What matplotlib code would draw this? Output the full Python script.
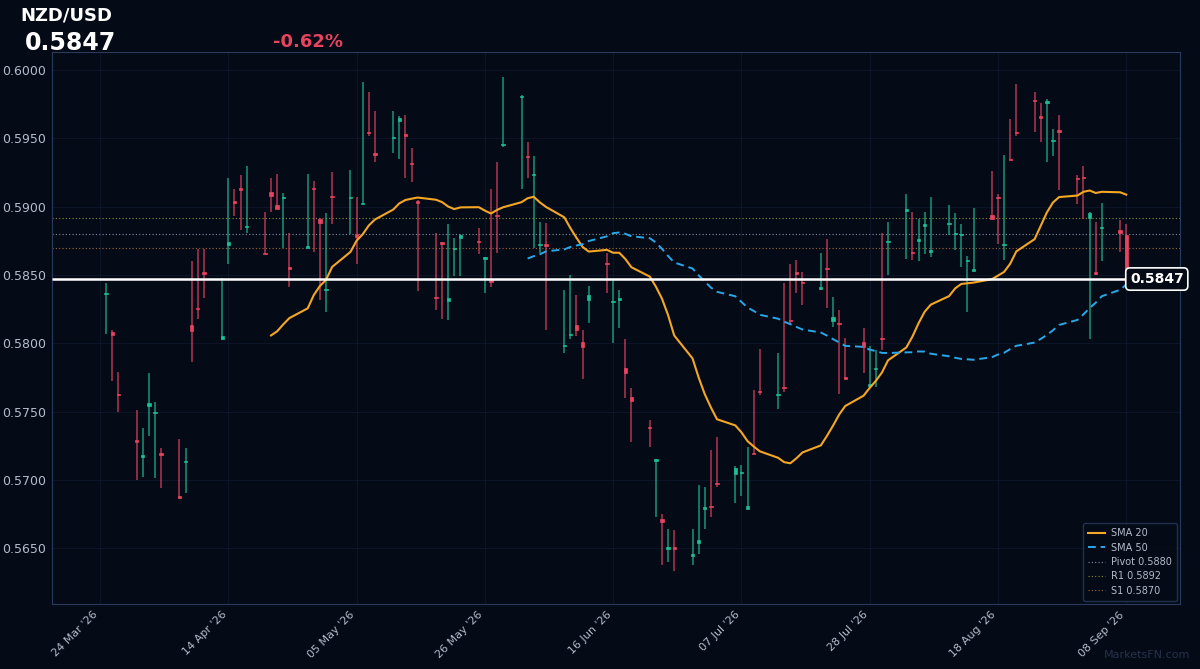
import matplotlib
matplotlib.use("Agg")
import matplotlib.pyplot as plt
import matplotlib.dates as mdates
import pandas as pd
import numpy as np

# ---- data ----
opens = [.5836,.5808,.5763, .5729,.5717,.5754,.5749,.5720, .5688,.5713,.5813,.5826,.5852,
         .5803,.5872,.5904,.5914,.5885, .5866,.5911,.5901,.5906,.5856, .5870,.5914,.5891,.5839,.5908,
         .5906,.5880,.5902,.5955,.5939, .5950,.5963,.5953,.5932,.5904, .5834,.5874,.5831,.5869,.5877,
         .5875,.5862,.5846,.5894,.5945, .5980,.5937,.5923,.5872,.5873, .5798,.5806,.5813,.5801,.5832,
         .5859,.5830,.5832,.5782,.5761, .5739,.5714,.5671,.5649,.5651, .5644,.5654,.5679,.5681,.5698,
         .5704,.5705,.5679,.5720,.5765, .5762,.5768,.5817,.5852,.5845, .5840,.5855,.5816,.5815,.5775,
         .5801,.5769,.5781,.5804,.5874, .5897,.5867,.5875,.5886,.5867, .5887,.5880,.5879,.5860,.5853,
         .5894,.5907,.5872,.5935,.5955, .5978,.5966,.5976,.5948,.5956, .5921,.5922,.5892,.5852,.5884,
         .5883,.5879]
highs = [.5844,.5810,.5779, .5751,.5738,.5778,.5757,.5723, .5730,.5723,.5860,.5869,.5869,
         .5848,.5921,.5913,.5923,.5930, .5896,.5921,.5924,.5910,.5881, .5924,.5919,.5892,.5895,.5925,
         .5927,.5907,.5991,.5984,.5970, .5970,.5966,.5967,.5943,.5905, .5881,.5874,.5887,.5877,.5880,
         .5884,.5863,.5913,.5933,.5995, .5982,.5947,.5937,.5889,.5888, .5839,.5850,.5835,.5810,.5842,
         .5866,.5846,.5839,.5803,.5767, .5744,.5715,.5675,.5664,.5663, .5664,.5696,.5695,.5722,.5731,
         .5710,.5711,.5724,.5766,.5796, .5793,.5844,.5858,.5861,.5852, .5866,.5876,.5834,.5824,.5804,
         .5811,.5798,.5795,.5881,.5889, .5909,.5896,.5891,.5896,.5907, .5901,.5895,.5887,.5864,.5899,
         .5926,.5909,.5938,.5964,.5990, .5984,.5976,.5979,.5957,.5967, .5923,.5930,.5896,.5889,.5903,
         .5890,.5887]
lows = [.5807,.5772,.5750, .5700,.5702,.5732,.5701,.5694, .5686,.5690,.5786,.5818,.5833,
        .5802,.5858,.5893,.5883,.5881, .5865,.5896,.5898,.5870,.5841, .5870,.5867,.5832,.5823,.5887,
        .5880,.5858,.5902,.5952,.5933, .5939,.5935,.5921,.5918,.5838, .5824,.5818,.5817,.5849,.5849,
        .5865,.5837,.5841,.5866,.5944, .5913,.5921,.5870,.5866,.5810, .5793,.5803,.5805,.5774,.5815,
        .5837,.5800,.5811,.5760,.5728, .5724,.5673,.5638,.5640,.5633, .5638,.5646,.5664,.5673,.5695,
        .5683,.5688,.5679,.5719,.5762, .5752,.5764,.5813,.5837,.5828, .5839,.5826,.5812,.5763,.5774,
        .5778,.5767,.5768,.5795,.5850, .5862,.5861,.5860,.5865,.5863, .5879,.5868,.5856,.5823,.5853,
        .5891,.5873,.5861,.5934,.5952, .5955,.5947,.5933,.5937,.5912, .5902,.5891,.5803,.5850,.5860,
        .5867,.5846]
closes = [.5837,.5806,.5762, .5728,.5718,.5756,.5750,.5718, .5687,.5714,.5809,.5825,.5851,
          .5805,.5874,.5903,.5912,.5886, .5865,.5908,.5898,.5907,.5854, .5871,.5913,.5888,.5840,.5907,
          .5907,.5878,.5903,.5954,.5938, .5951,.5965,.5952,.5931,.5903, .5833,.5873,.5833,.5870,.5879,
          .5874,.5863,.5845,.5893,.5946, .5981,.5936,.5924,.5873,.5871, .5799,.5807,.5810,.5797,.5835,
          .5858,.5831,.5833,.5778,.5758, .5738,.5715,.5669,.5651,.5649, .5646,.5656,.5680,.5680,.5697,
          .5709,.5706,.5681,.5719,.5764, .5763,.5767,.5816,.5851,.5844, .5841,.5854,.5819,.5814,.5774,
          .5797,.5770,.5782,.5803,.5875, .5898,.5866,.5876,.5887,.5868, .5888,.5881,.5880,.5861,.5854,
          .5891,.5906,.5873,.5934,.5954, .5977,.5965,.5977,.5949,.5955, .5920,.5921,.5895,.5851,.5885,
          .5881,.5847]
start_date = "2026-03-25"
prev_close = 0.58837
pivot, r1, s1 = 0.5880, 0.5892, 0.5870
symbol = "NZD/USD"
tick_labels = ["24 Mar '26", "14 Apr '26", "05 May '26", "26 May '26", "16 Jun '26",
               "07 Jul '26", "28 Jul '26", "18 Aug '26", "08 Sep '26"]

n = len(closes)
dates = pd.bdate_range(start_date, periods=n)
df = pd.DataFrame({"o": opens, "h": highs, "l": lows, "c": closes}, index=dates)
sma20 = df["c"].rolling(20).mean()
sma50 = df["c"].rolling(50).mean()
last = closes[-1]
chg = (last / prev_close - 1) * 100

BG = "#040b17"
GREEN = "#1fbf96"
RED = "#e8435f"
TXT = "#b4bccb"

fig = plt.figure(figsize=(12, 6.69), dpi=100, facecolor=BG)
ax = fig.add_axes([52/1200, 65/669, 1128/1200, 552/669], facecolor=BG)

x = mdates.date2num(dates)
for xi, o, h, l, c in zip(x, opens, highs, lows, closes):
    col = GREEN if c >= o else RED
    ax.vlines(xi, l, h, color=col, lw=1.2, alpha=0.7, zorder=3)
    lo, hi = min(o, c), max(o, c)
    if hi - lo < 0.00008:
        lo, hi = (lo + hi) / 2 - 0.00004, (lo + hi) / 2 + 0.00004
    ax.bar(xi, hi - lo, bottom=lo, width=0.55, color=col, edgecolor=col, lw=0.5, zorder=4)

ax.plot(x, sma20.values, color="#f5a623", lw=1.5, zorder=5, label="SMA 20")
ax.plot(x, sma50.values, color="#2aa7e8", lw=1.4, ls=(0, (4, 2.5)), zorder=5, label="SMA 50")
ax.axhline(pivot, color="#8090a8", lw=0.8, ls=(0, (1, 2)), zorder=2, label=f"Pivot {pivot:.4f}")
ax.axhline(r1, color="#8c8c3a", lw=0.8, ls=(0, (1, 2)), zorder=2, label=f"R1 {r1:.4f}")
ax.axhline(s1, color="#a06a3a", lw=0.8, ls=(0, (1, 2)), zorder=2, label=f"S1 {s1:.4f}")

x0 = mdates.date2num(pd.Timestamp("2026-03-24")) - 7.86
x1 = mdates.date2num(pd.Timestamp("2026-03-24")) + 176.8
ax.set_xlim(x0, x1)
ax.set_ylim(0.56091, 0.60132)
ax.hlines(last, x0, x[-1], color="white", lw=1.8, zorder=6)
ax.annotate(f"{last:.4f}", xy=(x[-1] + 0.6, last), xycoords="data", ha="left", va="center",
            color="white", fontsize=10, fontweight="bold", zorder=7,
            bbox=dict(boxstyle="round,pad=0.3", fc=BG, ec="white", lw=1.2))

ticks = mdates.date2num(pd.date_range("2026-03-24", periods=len(tick_labels), freq="21D"))
ax.set_xticks(ticks)
ax.set_xticklabels(tick_labels, rotation=45, ha="right", fontsize=8, color=TXT)
yt = np.arange(0.565, 0.60001, 0.005)
ax.set_yticks(yt)
ax.set_yticklabels([f"{v:.4f}" for v in yt], fontsize=9, color=TXT)
ax.tick_params(colors=TXT, length=0, pad=4)
ax.grid(True, color="#15203a", lw=0.6, alpha=0.6)
for s in ax.spines.values():
    s.set_color("#2a3a5c")

leg = ax.legend(loc="lower right", fontsize=7, frameon=True, facecolor=BG, edgecolor="#2a3a5c",
                labelcolor=TXT, borderpad=0.5, handlelength=1.8, labelspacing=0.45,
                handletextpad=0.6, borderaxespad=0.35)
leg.set_zorder(10)

fig.text(20/1200, 1 - 15/669, symbol, color="white", fontsize=13, fontweight="bold", va="center")
fig.text(25/1200, 1 - 43/669, f"{last:.4f}", color="white", fontsize=17, fontweight="bold", va="center")
fig.text(273/1200, 1 - 42/669, f"{chg:+.2f}%", color=RED, fontsize=13, fontweight="bold", va="center")
fig.text(1190/1200, 1 - 655/669, "MarketsFN.com", color="#26324a", fontsize=8, ha="right", va="center")

fig.savefig("out.png", dpi=100, facecolor=BG)
